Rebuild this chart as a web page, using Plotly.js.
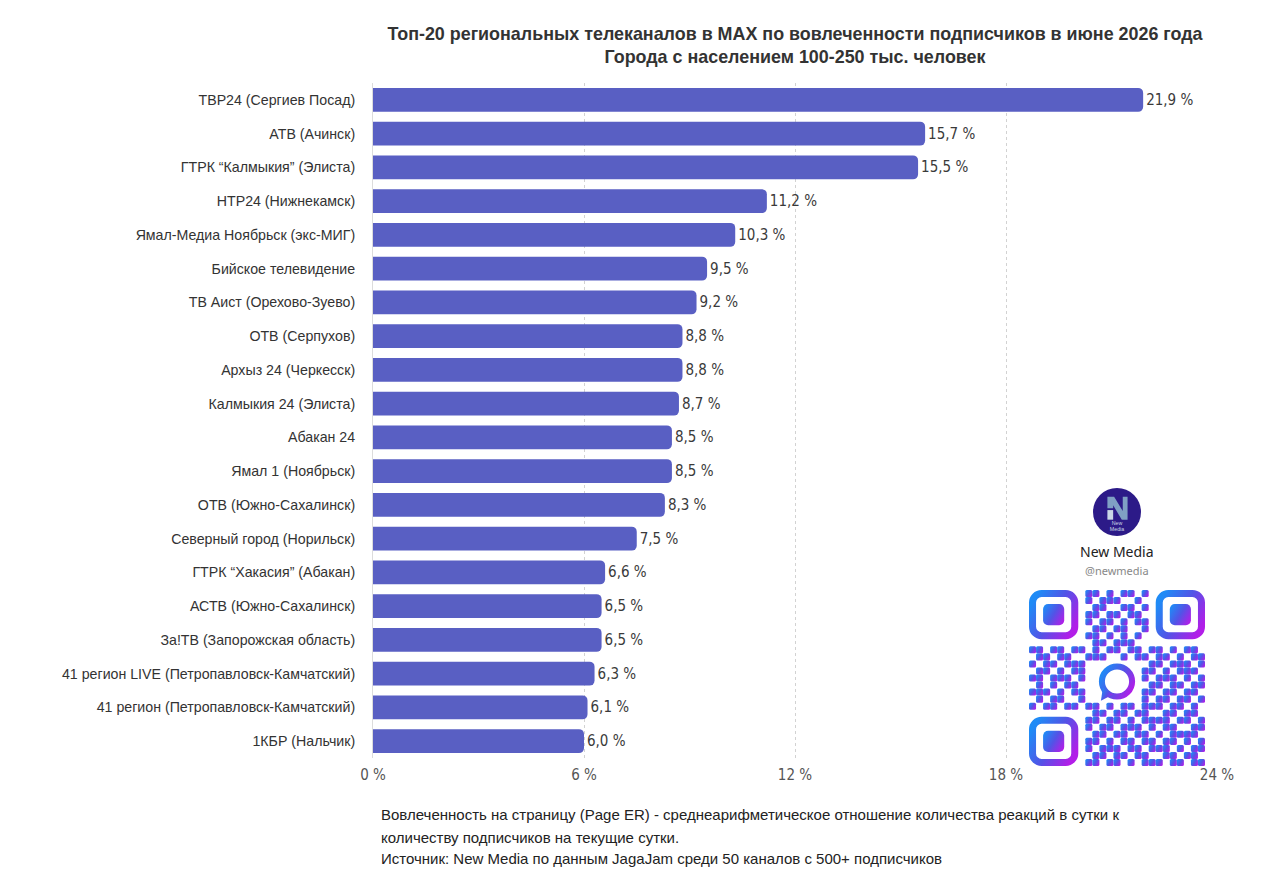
<!DOCTYPE html>
<html>
<head>
<meta charset="utf-8">
<script src="https://cdn.plot.ly/plotly-3.0.1.min.js"></script>
<style>html,body{margin:0;padding:0;background:#fff;}#chart{width:1280px;height:893px;}</style>
</head>
<body>
<div id="chart"></div>
<script>
const channels = [
  "ТВР24 (Сергиев Посад)",
  "АТВ (Ачинск)",
  "ГТРК “Калмыкия” (Элиста)",
  "НТР24 (Нижнекамск)",
  "Ямал-Медиа Ноябрьск (экс-МИГ)",
  "Бийское телевидение",
  "ТВ Аист (Орехово-Зуево)",
  "ОТВ (Серпухов)",
  "Архыз 24 (Черкесск)",
  "Калмыкия 24 (Элиста)",
  "Абакан 24",
  "Ямал 1 (Ноябрьск)",
  "ОТВ (Южно-Сахалинск)",
  "Северный город (Норильск)",
  "ГТРК “Хакасия” (Абакан)",
  "АСТВ (Южно-Сахалинск)",
  "За!ТВ (Запорожская область)",
  "41 регион LIVE (Петропавловск-Камчатский)",
  "41 регион (Петропавловск-Камчатский)",
  "1КБР (Нальчик)"
];
const pageER = [21.9, 15.7, 15.5, 11.2, 10.3, 9.5, 9.2, 8.8, 8.8, 8.7, 8.5, 8.5, 8.3, 7.5, 6.6, 6.5, 6.5, 6.3, 6.1, 6.0];
const xTicks = [0, 6, 12, 18, 24];
const xTickText = ["0 %", "6 %", "12 %", "18 %", "24 %"];

const titleLines = [
  "Топ-20 региональных телеканалов в MAX по вовлеченности подписчиков в июне 2026 года",
  "Города с населением 100-250 тыс. человек"
];
const footLines = [
  "Вовлеченность на страницу (Page ER) - среднеарифметическое отношение количества реакций в сутки к",
  "количеству подписчиков на текущие сутки.",
  "Источник: New Media по данным JagaJam среди 50 каналов с 500+ подписчиков"
];

// decorative QR-like pattern (not data)
const qrRows = [
  "0000000011010110100000000",
  "0000000010111001000000000",
  "0000000001100110100000000",
  "0000000011011011000000000",
  "0000000010110101100000000",
  "0000000001101100100000000",
  "0000000011010101000000000",
  "0000000001101110000000000",
  "1101101101011011011010110",
  "0110110011100101101101011",
  "1011011100000000011011101",
  "0110101100000000110101110",
  "1101110100000000101110101",
  "0101011000000000011011011",
  "1110101100000000110110110",
  "0101100100000000101101101",
  "1011011011010110111011010",
  "0000000001101101100110110",
  "0000000011011010111101101",
  "0000000010110111010110011",
  "0000000001101101101011110",
  "0000000011010110110110101",
  "0000000010111011011101011",
  "0000000001101101100110110",
  "0000000011011010111011011"
];

function qrSvg() {
  const m = 7, n = 25, S = m * n;
  let s = `<svg xmlns="http://www.w3.org/2000/svg" width="${S}" height="${S}" viewBox="0 0 ${S} ${S}">`;
  s += `<defs><linearGradient id="g" x1="0" y1="0.2" x2="1" y2="0.8"><stop offset="0" stop-color="#1f8bf6"/><stop offset="0.5" stop-color="#5353e6"/><stop offset="1" stop-color="#b21ee8"/></linearGradient></defs>`;
  s += `<g fill="url(#g)">`;
  for (let r = 0; r < n; r++) {
    for (let c = 0; c < n; c++) {
      if (qrRows[r][c] === "1") {
        s += `<rect x="${c*m}" y="${r*m}" width="${m}" height="${m}" rx="1.5"/>`;
      }
    }
  }
  s += `</g>`;
  const finder = (x, y) => `<rect x="${x+3.5}" y="${y+3.5}" width="${7*m-7}" height="${7*m-7}" rx="9" fill="none" stroke="url(#g)" stroke-width="7"/><rect x="${x+2*m}" y="${y+2*m}" width="${3*m}" height="${3*m}" rx="5" fill="url(#g)"/>`;
  s += finder(0, 0) + finder((n-7)*m, 0) + finder(0, (n-7)*m);
  const cx = 12.5*m, cy = 13*m;
  s += `<circle cx="${cx}" cy="${cy}" r="15" fill="none" stroke="url(#g)" stroke-width="6"/>`;
  s += `<path d="M${cx-14} ${cy+6} L${cx-16} ${cy+19} L${cx-4} ${cy+13} Z" fill="url(#g)"/>`;
  s += `</svg>`;
  return "data:image/svg+xml;base64," + btoa(s);
}

function logoSvg() {
  let s = `<svg xmlns="http://www.w3.org/2000/svg" width="100" height="100" viewBox="0 0 100 100">`;
  s += `<circle cx="50" cy="50" r="50" fill="#2c1a88"/>`;
  s += `<path d="M30 18 L44 18 L62 48 L62 18 L72 18 L72 66 L60 66 L42 36 L42 42 L30 42 Z" fill="#7fa0c4"/>`;
  s += `<rect x="30" y="46" width="12" height="20" fill="#c9d6e6"/>`;
  s += `<text x="50" y="78" font-family="Liberation Sans, Arial" font-size="11" fill="#c9d6e6" text-anchor="middle">New</text>`;
  s += `<text x="50" y="90" font-family="Liberation Sans, Arial" font-size="11" fill="#c9d6e6" text-anchor="middle">Media</text>`;
  s += `</svg>`;
  return "data:image/svg+xml;base64," + btoa(s);
}

const W = 1280, H = 893;
const L = 373, R = 63, T = 83, B = 135;
const pw = W - L - R, ph = H - T - B;
const px = x => (x - L) / pw;
const py = y => (H - B - y) / ph;

const condensed = "Liberation Sans Narrow, DejaVu Sans Condensed, Arial Narrow, sans-serif";
const sans = "Liberation Sans, Arial, Helvetica, sans-serif";

const trace = {
  type: "bar",
  orientation: "h",
  y: channels,
  x: pageER,
  marker: { color: "#595fc3", cornerradius: 5 },
  texttemplate: "%{x:.1f} %",
  textposition: "outside",
  cliponaxis: false,
  textfont: { family: condensed, size: 15, color: "#3a3a3a" },
  hoverinfo: "none"
};

const annotations = [];
footLines.forEach((t, i) => {
  annotations.push({
    xref: "paper", yref: "paper", x: px(379), y: py([814, 837, 858][i]),
    xanchor: "left", yanchor: "middle", showarrow: false,
    text: t, font: { family: sans, size: 15, color: "#222" }
  });
});
annotations.push({
  xref: "paper", yref: "paper", x: px(1117), y: py(551), xanchor: "center", yanchor: "middle",
  showarrow: false, text: "New Media", font: { family: "Noto Sans, Liberation Sans, sans-serif", size: 14, color: "#222" }
});
annotations.push({
  xref: "paper", yref: "paper", x: px(1117), y: py(570), xanchor: "center", yanchor: "middle",
  showarrow: false, text: "@newmedia", font: { family: "Noto Sans, Liberation Sans, sans-serif", size: 11, color: "#888" }
});

const layout = {
  width: W, height: H,
  margin: { l: L, r: R, t: T, b: B, pad: 0 },
  paper_bgcolor: "#fff", plot_bgcolor: "#fff",
  separators: ", ",
  showlegend: false,
  bargap: 0.29,
  title: {
    text: "<b>" + titleLines.join("<br>") + "</b>",
    xref: "paper", x: 0.5, xanchor: "center",
    yref: "container", y: 1 - 40 / H, yanchor: "top",
    font: { family: sans, size: 17.9, color: "#333" }
  },
  xaxis: {
    range: [0, 24],
    tickmode: "array",
    tickvals: xTicks,
    ticktext: xTickText,
    showgrid: true, gridcolor: "#d2d2d2", griddash: "dot", gridwidth: 1,
    zeroline: false, showline: false, ticks: "",
    ticklabelstandoff: 6,
    tickfont: { family: condensed, size: 15, color: "#555" },
    fixedrange: true
  },
  yaxis: {
    autorange: "reversed",
    type: "category",
    showgrid: false, zeroline: false,
    showline: true, linecolor: "#dcdcdc", linewidth: 1,
    ticks: "", ticklabelstandoff: 14,
    tickfont: { family: sans, size: 14.2, color: "#333" },
    fixedrange: true
  },
  annotations: annotations,
  images: [
    { source: qrSvg(), xref: "paper", yref: "paper", x: px(1029), y: py(590), sizex: 176 / pw, sizey: 176 / ph, xanchor: "left", yanchor: "top", sizing: "stretch", layer: "above" },
    { source: logoSvg(), xref: "paper", yref: "paper", x: px(1093), y: py(488), sizex: 48 / pw, sizey: 48 / ph, xanchor: "left", yanchor: "top", sizing: "stretch", layer: "above" }
  ]
};

Plotly.newPlot("chart", [trace], layout, { displayModeBar: false, staticPlot: true });
</script>
</body>
</html>
